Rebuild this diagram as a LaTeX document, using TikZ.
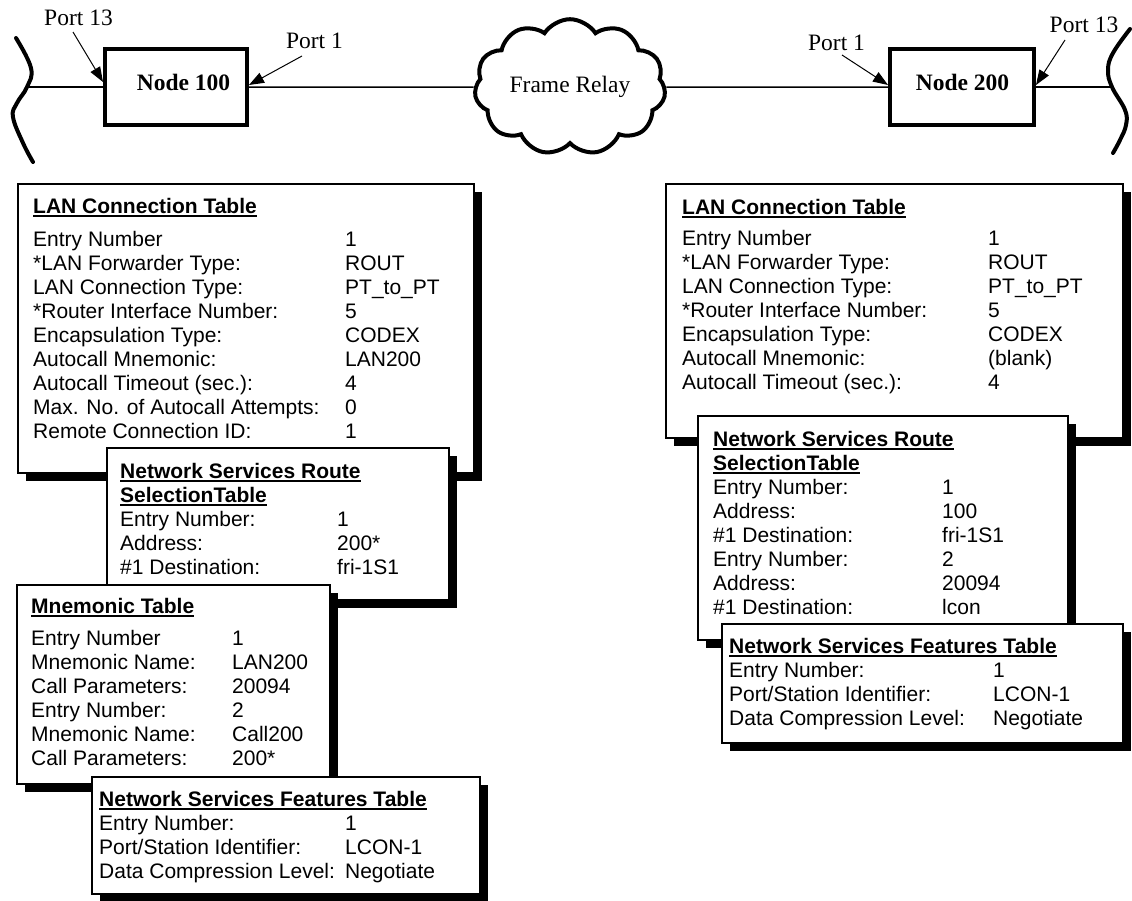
\documentclass[tikz,border=0pt]{standalone}
\usepackage{fontspec}
\setmainfont{Liberation Serif}
\setsansfont{Liberation Sans}
\usetikzlibrary{arrows.meta,shapes.symbols,shadows}
% bold heading with a heavy underline
\newcommand{\tabtitle}[1]{\setbox0\hbox{\bfseries #1}\rlap{\rule[-3.5pt]{\wd0}{1.8pt}}\box0}

\tikzset{
  netbox/.style={draw, line width=4pt, minimum height=76pt, inner sep=0pt},
  nodelabel/.style={font=\bfseries\fontsize{23.5}{26}\selectfont, anchor=base, inner sep=0pt},
  link/.style={line width=1.5pt},
  portarrow/.style={line width=1pt, -{Triangle[length=15pt,width=11pt]}},
  bracket/.style={line width=4pt, line cap=round},
  cloudnode/.style={cloud, draw, line width=4pt, cloud puffs=11, cloud puff arc=115,
    aspect=1.5, minimum width=191pt, minimum height=128pt, inner sep=0pt,
    font=\fontsize{23.5}{26}\selectfont},
  portlabel/.style={font=\fontsize{23.5}{26}\selectfont, anchor=base, inner sep=0pt},
  tablebox/.style={draw, line width=1.6pt, fill=white, anchor=north west, inner sep=0pt,
    drop shadow={shadow xshift=8.5pt, shadow yshift=-8.5pt, fill=black, opacity=1}},
  tabletext/.style={anchor=base west, inner sep=0pt, font=\sffamily\fontsize{21}{24}\selectfont},
}

\begin{document}
\begin{tikzpicture}[x=1pt, y=-1pt]
\useasboundingbox (0,0) rectangle (1132,900);

% ---- network line: nodes, cloud, wavy line ends ----
\node[netbox, minimum width=142pt] (n100) at (176,87) {};
\node[nodelabel] (n100t) at (183.5,90) {Node 100};
\node[netbox, minimum width=144pt] (n200) at (962,87) {};
\node[nodelabel] (n200t) at (962.5,90) {Node 200};
\node[cloudnode] (fr) at (570,87) {Frame Relay};

\draw[bracket] plot[smooth, tension=0.7] coordinates
  {(16,38) (31,68) (27,87) (17,103) (13,117) (23,143) (33,162)};
\draw[bracket] plot[smooth, tension=0.7] coordinates
  {(1130,29) (1113,53) (1108,70) (1112,87) (1125,110) (1126,125) (1120,140) (1113,153)};
\coordinate (lbr) at (28,87);
\coordinate (rbr) at (1111,87);

\draw[link] (lbr) -- (n100.west);
\draw[link] (n100.east) -- (fr.west);
\draw[link] (fr.east) -- (n200.west);
\draw[link] (n200.east) -- (rbr);

% ---- port labels ----
\node[portlabel] (p13l) at (78.5,25) {Port 13};
\node[portlabel] (p1l) at (314.5,48) {Port 1};
\node[portlabel] (p1r) at (836.5,50) {Port 1};
\node[portlabel] (p13r) at (1084,32) {Port 13};
\coordinate (t13l) at (73,32);
\coordinate (t1l) at (302,56);
\coordinate (t1r) at (842,55);
\coordinate (t13r) at (1065,40);
\draw[portarrow] (t13l) -- ([yshift=5pt]n100.west);
\draw[portarrow] (t1l) -- ([yshift=2pt]n100.east);
\draw[portarrow] (t1r) -- ([yshift=2pt]n200.west);
\draw[portarrow] (t13r) -- ([yshift=2pt]n200.east);

% ---- Node 100 tables ----
\node[tablebox, minimum width=456pt, minimum height=289pt] (lanL) at (17,183) {};
\node[tabletext] (lanLtxt) at (33,213) {\begin{tabular}[t]{@{}p{312pt}@{}l@{}}
\multicolumn{2}{@{}l@{}}{\tabtitle{LAN Connection Table}}\\[9pt]
Entry Number & 1\\
{*}LAN Forwarder Type: & ROUT\\
LAN Connection Type: & PT\_to\_PT\\
{*}Router Interface Number: & 5\\
Encapsulation Type: & CODEX\\
Autocall Mnemonic: & LAN200\\
Autocall Timeout (sec.): & 4\\
Max. No. of Autocall Attempts: & 0\\
Remote Connection ID: & 1
\end{tabular}};

\node[tablebox, minimum width=342pt, minimum height=152pt] (nsrsL) at (106,447) {};
\node[tabletext] (nsrsLtxt) at (120,478) {\begin{tabular}[t]{@{}p{217pt}@{}l@{}}
\multicolumn{2}{@{}l@{}}{\tabtitle{Network Services Route}}\\
\multicolumn{2}{@{}l@{}}{\tabtitle{SelectionTable}}\\
Entry Number: & 1\\
Address: & 200*\\
\#1 Destination: & fri-1S1
\end{tabular}};

\node[tablebox, minimum width=313pt, minimum height=199pt] (mnemL) at (16,584) {};
\node[tabletext] (mnemLtxt) at (31,613) {\begin{tabular}[t]{@{}p{201pt}@{}l@{}}
\multicolumn{2}{@{}l@{}}{\tabtitle{Mnemonic Table}}\\[8pt]
Entry Number & 1\\
Mnemonic Name: & LAN200\\
Call Parameters: & 20094\\
Entry Number: & 2\\
Mnemonic Name: & Call200\\
Call Parameters: & 200*
\end{tabular}};

\node[tablebox, minimum width=388pt, minimum height=117pt] (nsfL) at (91,776) {};
\node[tabletext] (nsfLtxt) at (99,806) {\begin{tabular}[t]{@{}p{246pt}@{}l@{}}
\multicolumn{2}{@{}l@{}}{\tabtitle{Network Services Features Table}}\\
Entry Number: & 1\\
Port/Station Identifier: & LCON-1\\
Data Compression Level: & Negotiate
\end{tabular}};

% ---- Node 200 tables ----
\node[tablebox, minimum width=457pt, minimum height=254pt] (lanR) at (665,183) {};
\node[tabletext] (lanRtxt) at (682,214) {\begin{tabular}[t]{@{}p{306pt}@{}l@{}}
\multicolumn{2}{@{}l@{}}{\tabtitle{LAN Connection Table}}\\[7pt]
Entry Number & 1\\
{*}LAN Forwarder Type: & ROUT\\
LAN Connection Type: & PT\_to\_PT\\
{*}Router Interface Number: & 5\\
Encapsulation Type: & CODEX\\
Autocall Mnemonic: & (blank)\\
Autocall Timeout (sec.): & 4
\end{tabular}};

\node[tablebox, minimum width=370pt, minimum height=224pt] (nsrsR) at (697,415) {};
\node[tabletext] (nsrsRtxt) at (713,446) {\begin{tabular}[t]{@{}p{229pt}@{}l@{}}
\multicolumn{2}{@{}l@{}}{\tabtitle{Network Services Route}}\\
\multicolumn{2}{@{}l@{}}{\tabtitle{SelectionTable}}\\
Entry Number: & 1\\
Address: & 100\\
\#1 Destination: & fri-1S1\\
Entry Number: & 2\\
Address: & 20094\\
\#1 Destination: & lcon
\end{tabular}};

\node[tablebox, minimum width=401pt, minimum height=119pt] (nsfR) at (721,623) {};
\node[tabletext] (nsfRtxt) at (729,653) {\begin{tabular}[t]{@{}p{264pt}@{}l@{}}
\multicolumn{2}{@{}l@{}}{\tabtitle{Network Services Features Table}}\\
Entry Number: & 1\\
Port/Station Identifier: & LCON-1\\
Data Compression Level: & Negotiate
\end{tabular}};
\end{tikzpicture}
\end{document}
